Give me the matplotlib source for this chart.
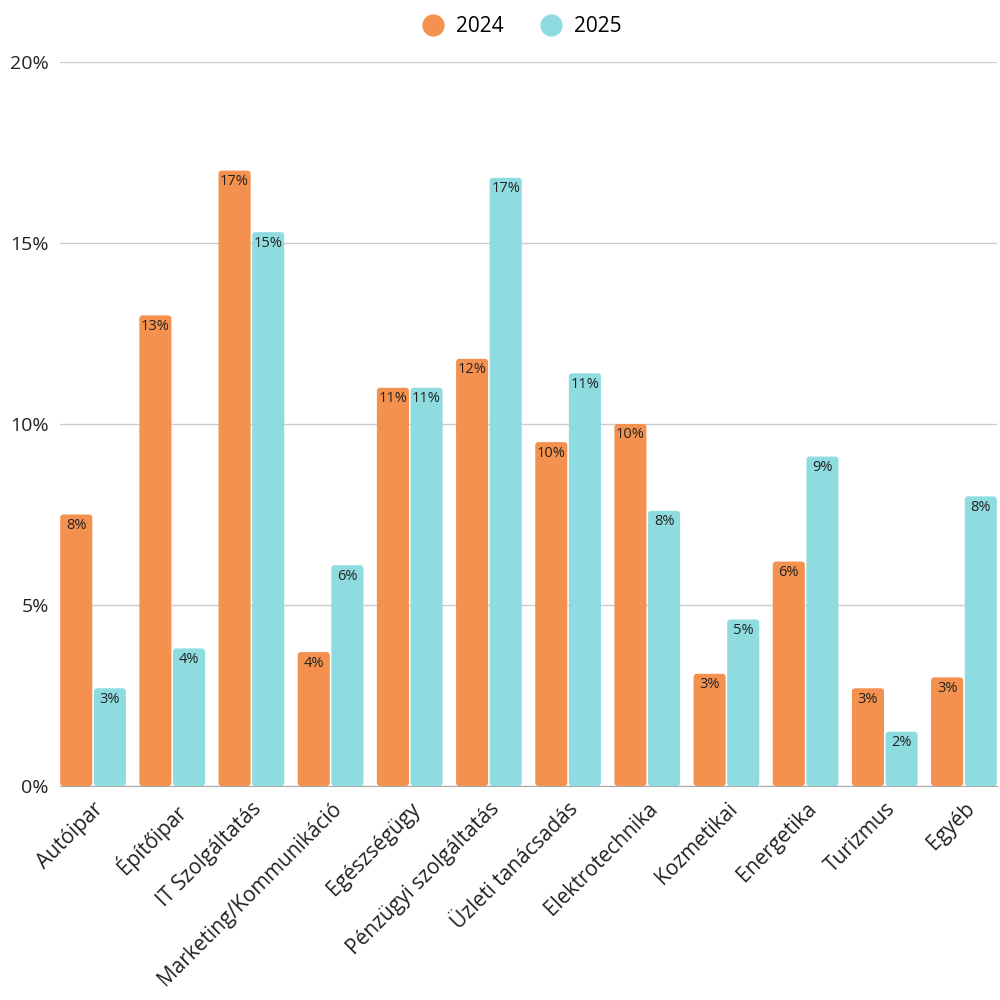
import matplotlib.pyplot as plt
import numpy as np
from matplotlib.patches import FancyBboxPatch
from matplotlib.lines import Line2D

plt.rcParams['font.family'] = ['Open Sans', 'DejaVu Sans']

categories = ['Autóipar', 'Építőipar', 'IT Szolgáltatás', 'Marketing/Kommunikáció',
              'Egészségügy', 'Pénzügyi szolgáltatás', 'Üzleti tanácsadás',
              'Elektrotechnika', 'Kozmetikai', 'Energetika', 'Turizmus', 'Egyéb']
values_2024 = [7.5, 13.0, 17.0, 3.7, 11.0, 11.8, 9.5, 10.0, 3.1, 6.2, 2.7, 3.0]
values_2025 = [2.7, 3.8, 15.3, 6.1, 11.0, 16.8, 11.4, 7.6, 4.6, 9.1, 1.5, 8.0]
series = ['2024', '2025']
colors = ['#F5914E', '#8EDBE0']
yticks = [0, 5, 10, 15, 20]

fig = plt.figure(figsize=(10, 10), dpi=100)
ax = fig.add_axes([0.06, 0.214, 0.937, 0.724])

x = np.arange(len(categories))
width = 0.405
offsets = [-0.2125, 0.2125]

for vals, off, col in zip([values_2024, values_2025], offsets, colors):
    bars = ax.bar(x + off, vals, width=width, color=col, zorder=2)
    for b, v in zip(bars, vals):
        b.set_visible(False)
        patch = FancyBboxPatch((b.get_x(), 0), b.get_width(), v,
                               boxstyle='round,pad=0,rounding_size=0.04',
                               mutation_aspect=2.1, facecolor=col,
                               edgecolor='none', zorder=2)
        ax.add_patch(patch)
        ax.annotate(f'{int(np.floor(v + 0.5))}%', (b.get_x() + b.get_width() / 2, v),
                    xytext=(0, -2.5), textcoords='offset points',
                    ha='center', va='top', fontsize=10.5, color='#222222', zorder=3)

ax.set_xlim(-0.4175, len(categories) - 1 + 0.4175)
ax.set_ylim(0, 20)
ax.set_yticks(yticks)
ax.set_yticklabels([f'{t}%' for t in yticks], fontsize=14, color='#222222')
ax.set_xticks(x)
ax.set_xticklabels(categories, rotation=45, ha='right', rotation_mode='anchor',
                   fontsize=15, color='#222222')
ax.tick_params(axis='both', length=0, pad=8)
ax.tick_params(axis='x', pad=9)

ax.grid(axis='y', color='#cccccc', linewidth=1, zorder=0)
for s in ['top', 'right', 'left']:
    ax.spines[s].set_visible(False)
ax.spines['bottom'].set_color('#aaaaaa')
ax.spines['bottom'].set_zorder(1)

handles = [Line2D([], [], marker='o', linestyle='none', markersize=15,
                  markerfacecolor=c, markeredgecolor=c) for c in colors]
fig.legend(handles, series, loc='center', bbox_to_anchor=(0.517, 0.973), ncol=2,
           frameon=False, fontsize=15, handletextpad=0.1, columnspacing=1.3)

plt.savefig('out.png', dpi=100)
plt.close()
